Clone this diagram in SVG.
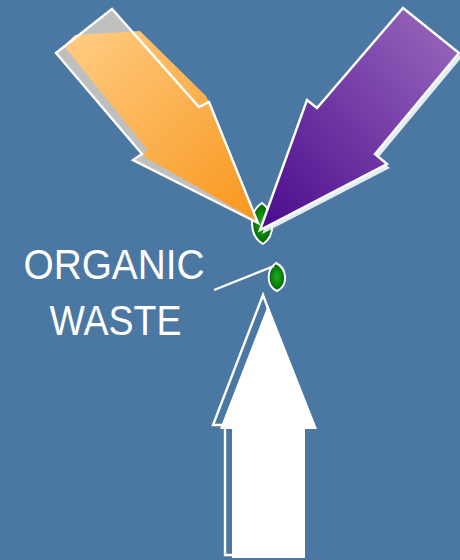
<svg xmlns="http://www.w3.org/2000/svg" width="460" height="560" viewBox="0 0 460 560">
  <defs>
    <linearGradient id="gOrange" x1="0" y1="0" x2="1" y2="1">
      <stop offset="0" stop-color="#FFCD84"/>
      <stop offset="1" stop-color="#F8961C"/>
    </linearGradient>
    <linearGradient id="gPurple" x1="1" y1="0" x2="0" y2="1">
      <stop offset="0" stop-color="#9C6BBE"/>
      <stop offset="1" stop-color="#4A0A8C"/>
    </linearGradient>
    <radialGradient id="gLeaf" cx="0.5" cy="0.5" r="0.55">
      <stop offset="0" stop-color="#1CB21C"/>
      <stop offset="1" stop-color="#005A00"/>
    </radialGradient>
    <style>
      .outline { fill: none; stroke: #FFFFFF; stroke-width: 2.4; stroke-linejoin: miter; }
      .leaf { fill: url(#gLeaf); stroke: #FFFFFF; stroke-width: 2; }
      .label { font-family: "Liberation Sans", Arial, sans-serif; font-size: 42px; fill: #FFFFFF; text-anchor: middle; }
      .conn { stroke: #FFFFFF; stroke-width: 2.2; fill: none; }
    </style>
  </defs>

  <rect x="0" y="0" width="460" height="560" fill="#4B77A3"/>

  <g id="leaf-top">
    <path class="leaf" d="M262,203 C275,212 276,236 263,244 C249,236 248,212 262,203 Z"/>
  </g>

  <g id="arrow-orange">
    <polygon points="112,9 56,53 142,154 133,160 258,223 209,102 199,107" fill="#BFBFBF"/>
    <polygon points="64,46 75,35 140,31 206,96 209,102 257,221 143,156 147,149" fill="url(#gOrange)"/>
    <polygon class="outline" points="112,9 56,53 142,154 133,160 258,223 209,102 199,107"/>
  </g>

  <g id="arrow-purple">
    <polygon points="405,12 462,57 378,158 390,168 262,234 310,104 319,112" fill="#FFFFFF" fill-opacity="0.85"/>
    <polygon points="403,8 459,53 375,154 387,164 260,230 307,100 317,108" fill="url(#gPurple)" stroke="#FFFFFF" stroke-width="2.4"/>
  </g>

  <g id="leaf-bottom">
    <path class="leaf" d="M276,263 C288,269 288,286 277,291 C266,286 266,270 276,263 Z"/>
  </g>

  <g id="arrow-white">
    <polygon class="outline" points="263,295 213,425 225,425 225,555 299,555 299,425 311,425"/>
    <polygon points="268,305 220,429 232,429 232,558 305,558 305,429 317,429" fill="#FFFFFF"/>
  </g>

  <g id="label-organic-waste">
    <text class="label" x="114" y="279" textLength="181" lengthAdjust="spacingAndGlyphs">ORGANIC</text>
    <text class="label" x="115.5" y="335" textLength="132" lengthAdjust="spacingAndGlyphs">WASTE</text>
  </g>

  <g id="connectors">
    <line class="conn" x1="214" y1="290" x2="274" y2="266"/>
  </g>
</svg>
